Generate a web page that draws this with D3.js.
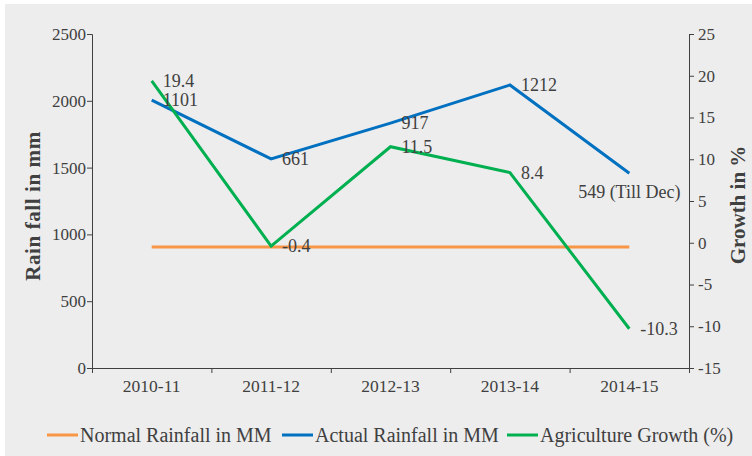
<!DOCTYPE html>
<meta charset="utf-8">
<title>Rainfall and Agriculture Growth</title>
<style>
body { margin: 0; background: #fff; }
text { font-family: "Liberation Serif", "DejaVu Serif", serif; fill: #404040; }
.axis path, .axis line { stroke: #404040; }
.line { fill: none; stroke-width: 3; }
</style>
<body>
<script src="https://d3js.org/d3.v7.min.js"></script>
<script>

// data
var years = ["2010-11", "2011-12", "2012-13", "2013-14", "2014-15"];
var normalRain = [905, 905, 905, 905, 905];
var actualRain = [2005, 1565, 1833, 2118, 1458];
var actualLabels = ["1101", "661", "917", "1212", "549 (Till Dec)"];
var growth = [19.4, -0.4, 11.5, 8.4, -10.3];
var leftTicks = [0, 500, 1000, 1500, 2000, 2500];
var rightTicks = [-15, -10, -5, 0, 5, 10, 15, 20, 25];

var W = 752, H = 456;
var margin = {top: 34, right: 63, bottom: 88, left: 92},
    width = W - margin.left - margin.right,
    height = H - margin.top - margin.bottom;

var colors = {normal: "#f79646", actual: "#0070c0", growth: "#00b050"};

var svg = d3.select("body").append("svg")
    .attr("width", W)
    .attr("height", H);

svg.append("rect")
    .attr("x", 5).attr("y", 4)
    .attr("width", W - 5).attr("height", H - 4)
    .attr("fill", "#ededed");

var g = svg.append("g")
    .attr("transform", "translate(" + margin.left + "," + margin.top + ")");

// scales
var x = d3.scaleBand().domain(years).range([0, width]).padding(0);
var xTick = d3.scaleLinear().domain([0, years.length]).range([0, width]);
var yL = d3.scaleLinear().domain([0, 2500]).range([height, 0]);
var yR = d3.scaleLinear().domain([-15, 25]).range([height, 0]);
var cx = function(d, i) { return x(years[i]) + x.bandwidth() / 2; };
var plain = function(d) { return String(d); };

// axes
g.append("g").attr("class", "axis")
    .call(d3.axisLeft(yL).tickValues(leftTicks).tickFormat(plain).tickSize(5).tickPadding(1))
    .call(function(a) { a.selectAll("text").style("font-size", "17px"); });

g.append("g").attr("class", "axis")
    .attr("transform", "translate(" + width + ",0)")
    .call(d3.axisRight(yR).tickValues(rightTicks).tickFormat(plain).tickSize(5).tickPadding(4))
    .call(function(a) { a.selectAll("text").style("font-size", "17px"); });

g.append("g").attr("class", "axis")
    .attr("transform", "translate(0," + height + ")")
    .call(d3.axisBottom(xTick).ticks(5).tickSize(5).tickFormat(""));

g.append("g").attr("class", "axis")
    .attr("transform", "translate(0," + height + ")")
    .call(d3.axisBottom(x).tickSize(0).tickPadding(12))
    .call(function(a) {
        a.select(".domain").remove();
        a.selectAll("text").style("font-size", "17.5px");
    });

// axis titles
g.append("text")
    .attr("transform", "translate(-52," + (height / 2 + 5) + ") rotate(-90)")
    .attr("text-anchor", "middle")
    .style("font-size", "21px").style("font-weight", "bold")
    .style("letter-spacing", "0.6px")
    .text("Rain fall in mm");

g.append("text")
    .attr("transform", "translate(" + (width + 56) + "," + (height / 2 + 4) + ") rotate(-90)")
    .attr("text-anchor", "middle")
    .style("font-size", "21px").style("font-weight", "bold")
    .text("Growth in %");

// lines
var lineL = d3.line().x(cx).y(function(d) { return yL(d); });
var lineR = d3.line().x(cx).y(function(d) { return yR(d); });

g.append("path").datum(normalRain).attr("class", "line")
    .attr("stroke", colors.normal).attr("d", lineL);
g.append("path").datum(actualRain).attr("class", "line")
    .attr("stroke", colors.actual).attr("d", lineL);
g.append("path").datum(growth).attr("class", "line")
    .attr("stroke", colors.growth).attr("d", lineR);

// data labels
g.selectAll(".lblA").data(actualRain).enter().append("text")
    .style("font-size", "18px")
    .attr("x", function(d, i) { return i == 4 ? cx(d, i) : cx(d, i) + 11; })
    .attr("y", function(d, i) { return i == 4 ? yL(d) + 18 : yL(d); })
    .attr("dy", "0.35em")
    .attr("text-anchor", function(d, i) { return i == 4 ? "middle" : "start"; })
    .text(function(d, i) { return actualLabels[i]; });

g.selectAll(".lblG").data(growth).enter().append("text")
    .style("font-size", "18px")
    .attr("x", function(d, i) { return cx(d, i) + 11; })
    .attr("y", function(d) { return yR(d); })
    .attr("dy", "0.35em")
    .text(function(d) { return d; });

// legend
var legend = [
    {name: "Normal Rainfall in MM", color: colors.normal, x: 47},
    {name: "Actual Rainfall in MM", color: colors.actual, x: 282},
    {name: "Agriculture Growth (%)", color: colors.growth, x: 507}
];
var lg = svg.selectAll(".leg").data(legend).enter().append("g")
    .attr("transform", function(d) { return "translate(" + d.x + ",435)"; });
lg.append("line").attr("x1", 0).attr("x2", 31)
    .attr("stroke", function(d) { return d.color; }).attr("stroke-width", 3);
lg.append("text").attr("x", 33).attr("dy", "0.35em")
    .style("font-size", "20px")
    .text(function(d) { return d.name; });

</script>
</body>
